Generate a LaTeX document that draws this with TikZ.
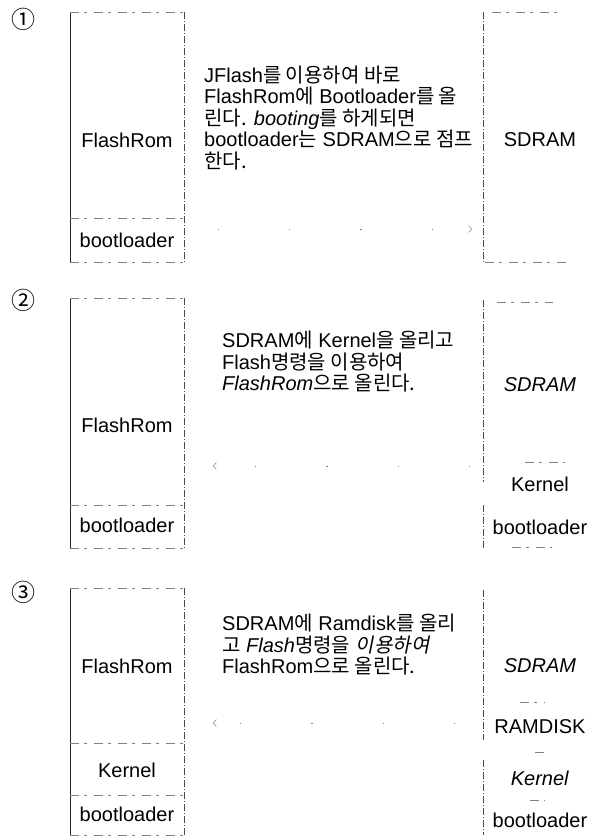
\documentclass[tikz,border=0pt]{standalone}
\usepackage{fontspec}
\setmainfont{Liberation Sans}
\newfontfamily\kofont{Noto Sans CJK KR}
\newfontfamily\koslant[FakeSlant=0.2]{Noto Sans CJK KR}
\newcommand{\ko}[1]{{\kofont #1}}
\newcommand{\kosl}[1]{{\koslant #1}}
\usepackage{tikz}
\usetikzlibrary{arrows.meta, positioning}

\begin{document}
\begin{tikzpicture}[x=1pt, y=-1pt, >=Stealth,
    every node/.style={inner sep=0pt, font=\fontsize{20}{21.5}\selectfont},
    stepnum/.style={font=\fontsize{24}{24}\selectfont\kofont},
    solidedge/.style={line width=0.7pt, black!85},
    cutedge/.style={line width=0.6pt, black!70, dash pattern=on 7pt off 2pt on 1pt off 2pt},
    faintedge/.style={line width=0.5pt, black!50, dash pattern=on 9pt off 5pt on 3pt off 7pt},
    fadedarrow/.style={line width=0.5pt, black!50, dash pattern=on 1.2pt off 70pt, arrows={-Straight Barb[length=3pt,width=7pt]}}]
    \useasboundingbox (0,0) rectangle (598,839);

    % 1
    \node[stepnum] (num1) at (24,19) {①};
    \draw[solidedge] (70,12) -- (70,262);
    \draw[cutedge] (184,12) -- (184,262);
    \draw[faintedge] (70,12) -- (184,12);
    \draw[faintedge] (70,218) -- (184,218);
    \draw[faintedge] (70,262) -- (184,262);
    \node (rom1) at (127,140) {FlashRom};
    \node (boot1) at (127,240) {bootloader};
    \node[anchor=west, align=left] (note1) at (204,118)
        {JFlash\ko{를 이용하여 바로}\\FlashRom\ko{에} Bootloader\ko{를 올}\\\ko{린다.} \textit{booting}\ko{를 하게되면}\\bootloader\ko{는} SDRAM\ko{으로 점프}\\\ko{한다.}};
    \draw[cutedge] (483,12) -- (483,262);
    \draw[faintedge] (492,12) -- (560,12);
    \draw[faintedge] (485,262) -- (570,262);
    \node (sdram1) at (540,140) {SDRAM};
    \coordinate (from1) at (218,229);
    \coordinate (to1) at (472,229);
    \draw[fadedarrow] (from1) -- (to1);

    % 2
    \node[stepnum] (num2) at (24,300) {②};
    \draw[solidedge] (70,298) -- (70,548);
    \draw[cutedge] (184,298) -- (184,548);
    \draw[faintedge] (70,298) -- (184,298);
    \draw[faintedge] (70,505) -- (184,505);
    \draw[faintedge] (70,548) -- (184,548);
    \node (rom2) at (127,425) {FlashRom};
    \node (boot2) at (127,525) {bootloader};
    \node[anchor=west, align=left] (note2) at (222,362)
        {SDRAM\ko{에} Kernel\ko{을 올리고}\\Flash\ko{명령을 이용하여}\\\textit{FlashRom}\ko{으로 올린다.}};
    \draw[cutedge] (483,300) -- (483,482);
    \draw[cutedge] (483,505) -- (483,548);
    \draw[faintedge] (497,302) -- (553,302);
    \draw[faintedge] (525,462) -- (565,462);
    \draw[faintedge] (512,547) -- (552,547);
    \node (sdram2) at (540,385) {\textit{SDRAM}};
    \node (kernel2) at (540,484) {Kernel};
    \node (bootr2) at (540,527) {bootloader};
    \coordinate (from2) at (470,466);
    \coordinate (to2) at (213,466);
    \draw[fadedarrow] (from2) -- (to2);

    % 3
    \node[stepnum] (num3) at (24,592) {③};
    \draw[solidedge] (70,588) -- (70,835);
    \draw[cutedge] (184,588) -- (184,835);
    \draw[faintedge] (70,588) -- (184,588);
    \draw[faintedge] (70,743) -- (184,743);
    \draw[faintedge] (70,795) -- (184,795);
    \draw[faintedge] (70,835) -- (184,835);
    \node (rom3) at (127,666) {FlashRom};
    \node (kernel3) at (127,770) {Kernel};
    \node (boot3) at (127,814) {bootloader};
    \node[anchor=west, align=left] (note3) at (222,645)
        {SDRAM\ko{에} Ramdisk\ko{를 올리}\\\ko{고} \textit{Flash}\ko{명령을} \kosl{이용하여}\\FlashRom\ko{으로 올린다.}};
    \draw[cutedge] (483,590) -- (483,740);
    \draw[cutedge] (483,760) -- (483,835);
    \draw[faintedge] (520,702) -- (545,702);
    \draw[faintedge] (535,752) -- (545,752);
    \draw[faintedge] (530,800) -- (545,800);
    \node (sdram3) at (540,666) {\textit{SDRAM}};
    \node (ramdisk3) at (540,727) {RAMDISK};
    \node (kernelr3) at (540,778) {\textit{Kernel}};
    \node (bootr3) at (540,820) {bootloader};
    \coordinate (from3) at (455,723);
    \coordinate (to3) at (213,723);
    \draw[fadedarrow] (from3) -- (to3);
\end{tikzpicture}
\end{document}
